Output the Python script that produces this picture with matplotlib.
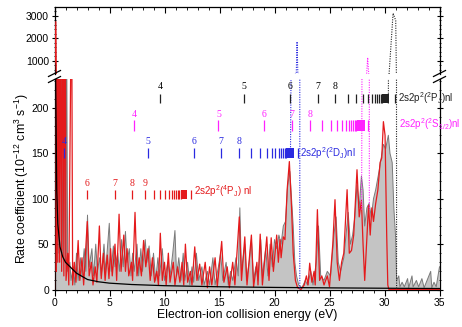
import numpy as np
import matplotlib
matplotlib.use("Agg")
import matplotlib.pyplot as plt
from matplotlib.ticker import MultipleLocator
from matplotlib.lines import Line2D

plt.rcParams['font.family'] = ['Liberation Sans', 'DejaVu Sans']
plt.rcParams['mathtext.fontset'] = 'custom'
plt.rcParams['mathtext.rm'] = 'Liberation Sans'
plt.rcParams['mathtext.it'] = 'Liberation Sans:italic'
plt.rcParams['mathtext.bf'] = 'Liberation Sans:bold'

# ---------------- data ----------------
red_x = [0.0, 0.12, 0.17, 0.25, 0.3, 0.4, 0.47, 0.58, 0.65, 0.78, 0.85, 0.97, 1.05, 1.2, 1.3, 1.55, 1.65,
         1.8, 1.95, 2.15, 2.3, 2.5, 2.65, 2.98, 3.15, 3.35, 3.5, 3.7, 3.85, 4.08, 4.25, 4.45, 4.6, 4.8,
         4.95, 5.1, 5.25, 5.5, 5.65, 5.87, 6.05, 6.3, 6.45, 6.6, 6.75, 7.0, 7.1, 7.32, 7.5, 7.7, 7.9,
         8.1, 8.3, 8.5, 8.7, 8.9, 9.1, 9.3, 9.45, 9.62, 9.8, 10.0, 10.15, 10.35, 10.5, 10.8, 10.95,
         11.2, 11.4, 11.6, 11.75, 11.9, 12.1, 12.35, 12.5, 12.75, 12.95, 13.2, 13.4, 13.7, 13.9, 14.1,
         14.3, 14.6, 14.8, 15.2, 15.4, 15.7, 15.9, 16.2, 16.4, 16.8, 17.0, 17.3, 17.5, 17.9, 18.1, 18.4,
         18.5, 18.7, 18.9, 19.3, 19.5, 19.7, 19.9, 20.2, 20.35, 20.5, 20.6, 20.8, 20.95, 21.15, 21.35,
         21.55, 21.7, 21.9, 22.1, 22.4, 22.7, 22.9, 23.05, 23.2, 23.4, 23.6, 23.7, 23.9, 24.1, 24.3,
         24.5, 24.8, 25.0, 25.3, 25.5, 25.7, 25.9, 26.1, 26.3, 26.6, 26.8, 27.0, 27.2, 27.5, 27.7,
         27.9, 28.05, 28.2, 28.35, 28.55, 28.7, 28.85, 29.0, 29.2, 29.4, 29.6, 29.75, 29.9, 30.05,
         30.2, 30.3, 30.4, 35.0]
red_y = [0, 2750, 20, 350, 30, 350, 30, 350, 20, 350, 15, 350, 10, 40, 5, 350, 5,
         30, 8, 54, 10, 35, 5, 75, 15, 30, 5, 25, 8, 70, 12, 40, 10, 38,
         12, 45, 15, 50, 10, 83, 20, 60, 20, 45, 15, 30, 10, 85, 15, 35, 15,
         54, 25, 45, 10, 35, 8, 20, 5, 62, 10, 30, 5, 40, 8, 30, 5,
         25, 8, 30, 5, 50, 8, 20, 5, 47, 10, 28, 5, 30, 2, 25,
         5, 35, 3, 53, 8, 25, 2, 30, 5, 80, 10, 58, 5, 60, 3, 30,
         5, 61, 5, 58, 10, 57, 20, 60, 30, 55, 35, 58, 55, 110, 141,
         90, 40, 10, 2, 0, 5, 15, 5, 29, 8, 20, 5, 88, 10, 15,
         5, 15, 3, 50, 99, 30, 10, 30, 40, 110, 40, 43, 60, 132, 80,
         98, 50, 10, 45, 93, 60, 90, 75, 95, 110, 140, 145, 185, 170,
         60, 5, 0, 0]

gray_x = [0.0, 0.05, 0.1, 0.3, 0.4, 0.6, 0.7, 0.9, 1.0, 1.1, 1.2, 1.4, 1.5, 1.7, 1.85, 2.0, 2.15, 2.35,
          2.5, 2.7, 2.85, 3.0, 3.15, 3.4, 3.55, 3.75, 3.9, 4.1, 4.25, 4.5, 4.65, 4.98, 5.15, 5.35, 5.5,
          5.75, 5.9, 6.1, 6.25, 6.45, 6.6, 6.8, 6.95, 7.1, 7.25, 7.5, 7.65, 7.85, 8.0, 8.25, 8.4, 8.6,
          8.8, 9.0, 9.2, 9.4, 9.55, 9.8, 10.0, 10.3, 10.5, 10.75, 10.95, 11.1, 11.3, 11.5, 11.7, 11.85,
          12.1, 12.3, 12.5, 12.65, 12.9, 13.1, 13.4, 13.6, 13.9, 14.1, 14.4, 14.6, 14.9, 15.1, 15.3,
          15.6, 15.8, 16.0, 16.2, 16.5, 16.7, 16.85, 17.0, 17.3, 17.45, 17.7, 17.9, 18.1, 18.3, 18.5,
          18.75, 18.9, 19.2, 19.4, 19.6, 19.8, 20.0, 20.2, 20.4, 20.6, 20.8, 21.0, 21.2, 21.4, 21.55,
          21.7, 21.85, 22.0, 22.2, 22.5, 22.8, 23.0, 23.3, 23.5, 23.8, 24.0, 24.2, 24.5, 24.8, 25.1,
          25.4, 25.6, 25.8, 26.0, 26.3, 26.5, 26.7, 26.9, 27.1, 27.3, 27.5, 27.7, 27.9, 28.05, 28.2,
          28.4, 28.6, 28.8, 29.0, 29.2, 29.5, 29.7, 29.9, 30.1, 30.35, 30.5, 30.7, 30.85, 31.0, 31.1,
          31.3, 31.4, 31.6, 31.8, 32.1, 32.2, 32.5, 32.6, 32.9, 33.1, 33.4, 33.6, 34.2, 34.3, 34.5,
          34.7, 35.0]
gray_y = [0, 400, 50, 350, 40, 300, 40, 300, 30, 300, 20, 30, 10, 25, 5, 40, 10, 35,
          15, 45, 20, 82, 25, 45, 15, 50, 20, 35, 15, 50, 20, 73, 20, 48, 25,
          40, 20, 55, 25, 64, 30, 45, 15, 40, 20, 50, 15, 45, 20, 55, 30, 48,
          15, 40, 10, 35, 15, 45, 10, 30, 15, 40, 65, 15, 35, 10, 40, 10,
          30, 5, 25, 8, 40, 10, 25, 5, 20, 5, 35, 5, 25, 40, 10,
          30, 5, 20, 10, 35, 15, 90, 20, 50, 10, 30, 55, 10, 25, 10,
          55, 15, 45, 15, 50, 25, 55, 45, 60, 50, 70, 75, 115, 130, 100,
          70, 30, 15, 5, 2, 10, 5, 20, 5, 30, 70, 15, 10, 20, 15,
          60, 80, 30, 20, 35, 60, 85, 50, 60, 80, 115, 90, 125, 110, 70,
          90, 95, 80, 100, 110, 130, 145, 160, 155, 170, 150, 140, 90, 60, 10,
          15, 3, 8, 3, 12, 2, 15, 3, 10, 3, 12, 2, 20, 2, 8,
          3, 25]

rr_x = [0.02, 0.05, 0.1, 0.2, 0.3, 0.5, 0.75, 1.0, 1.5, 2.0, 3.0, 4.0, 5.0, 7.0, 10.0, 15.0, 20.0, 25.0, 30.0, 35.0]
rr_y = [900, 450, 240, 110, 72, 47, 36, 30, 24, 18, 11, 8.5, 7, 5.5, 4.2, 3.0, 2.3, 1.8, 1.4, 1.1]

# dotted series-limit pile-ups
blue_dot_x = [21.45, 21.5, 21.98, 22.05, 22.12, 22.3, 22.3]
blue_dot_y = [146, 232, 450, 1860, 450, 232, 0]
mag_dot_x = [27.92, 27.95, 28.38, 28.47, 28.56, 28.62, 28.62]
mag_dot_y = [88, 232, 450, 1150, 450, 232, 88]
blk_dot_x = [30.35, 30.42, 30.78, 31.02, 31.08, 31.1]
blk_dot_y = [205, 450, 3120, 2800, 450, 0]

# Rydberg series markers
red_num = [6, 7, 8, 9]
red_num_x = [2.96, 5.46, 7.09, 8.20]
red_tick_x = [9.00, 9.59, 10.04, 10.39, 10.67, 10.89, 11.07, 11.22, 11.35, 11.46]
red_block = [11.5, 12.05]
red_limit = 12.4

blue_num = [4, 5, 6, 7, 8]
blue_num_x = [0.85, 8.5, 12.66, 15.16, 16.79]
blue_tick_x = [17.9, 18.7, 19.29, 19.74, 20.09, 20.37, 20.59, 20.77, 20.92, 21.05]
blue_block = [21.0, 21.78]
blue_limit = 22.15

mag_num = [4, 5, 6, 7, 8]
mag_num_x = [7.25, 14.9, 19.06, 21.56, 23.19]
mag_tick_x = [24.30, 25.10, 25.69, 26.14, 26.49, 26.77, 26.99, 27.17, 27.32, 27.45]
mag_block = [27.5, 28.22]
mag_limit = 28.53

blk_num = [4, 5, 6, 7, 8]
blk_num_x = [9.6, 17.25, 21.41, 23.91, 25.54]
blk_tick_x = [26.65, 27.45, 28.04, 28.49, 28.84, 29.12, 29.34, 29.52, 29.67, 29.80]
blk_block = [29.75, 30.42]
blk_limit = 30.92

series_labels = [r'2s2p$^2$($^4$P$_\mathrm{J}$) nl', r'2s2p$^2$($^2$D$_\mathrm{J}$)nl',
                 r'2s2p$^2$($^2$S$_{1/2}$)nl', r'2s2p$^2$($^2$P$_\mathrm{J}$)nl']

# ---------------- figure ----------------
W, H = 462, 327
fig = plt.figure(figsize=(W / 100, H / 100), dpi=100)
L, R = 54.5 / W, 439.5 / W
ax = fig.add_axes([L, 1 - 289.5 / H, R - L, (289.5 - 79) / H])
axt = fig.add_axes([L, 1 - 73.5 / H, R - L, (73.5 - 7) / H])

RED = '#e41a1c'
GRAYF = '#c4c4c4'
GRAYL = '#7a7a7a'
BLUE = '#2a2ae0'
MAG = '#ff22ff'

for a in (ax, axt):
    a.fill_between(gray_x, gray_y, 0, color=GRAYF, lw=0, zorder=1)
    a.plot(gray_x, gray_y, color=GRAYL, lw=0.7, zorder=2)
    a.plot(red_x, red_y, color=RED, lw=0.9, zorder=3)
    a.plot(rr_x, rr_y, color='black', lw=0.9, zorder=4)
    a.plot(blue_dot_x, blue_dot_y, color=BLUE, lw=0.8, ls=(0, (1, 1.2)), zorder=4)
    a.plot(mag_dot_x, mag_dot_y, color=MAG, lw=0.8, ls=(0, (1, 1.2)), zorder=4)
    a.plot(blk_dot_x, blk_dot_y, color='#222222', lw=0.8, ls=(0, (1, 1.2)), zorder=4)
    a.set_xlim(0, 35)
    a.xaxis.set_major_locator(MultipleLocator(5))
    a.xaxis.set_minor_locator(MultipleLocator(1))
    for s in a.spines.values():
        s.set_linewidth(0.9)

ax.set_ylim(0, 232)
axt.set_ylim(444, 3400)
ax.spines['top'].set_visible(False)
axt.spines['bottom'].set_visible(False)

ax.yaxis.set_major_locator(MultipleLocator(50))
ax.yaxis.set_minor_locator(MultipleLocator(10))
axt.yaxis.set_major_locator(MultipleLocator(1000))
axt.yaxis.set_minor_locator(MultipleLocator(200))

ax.tick_params(axis='x', which='both', bottom=True, top=False, direction='out', labelsize=7.5, pad=2)
ax.tick_params(axis='y', which='both', left=True, right=True, direction='in', labelsize=7.5, pad=2)
ax.tick_params(axis='y', which='both', left=True, direction='inout')
axt.tick_params(axis='x', which='both', bottom=False, top=True, labelbottom=False, direction='in')
axt.tick_params(axis='y', which='both', left=True, right=True, direction='in', labelsize=7.5, pad=2)
axt.tick_params(axis='y', which='both', left=True, direction='inout')
for a in (ax, axt):
    a.tick_params(which='major', length=4, width=0.8)
    a.tick_params(which='minor', length=2, width=0.6)

ax.set_xlabel('Electron-ion collision energy (eV)', fontsize=8.8, labelpad=1)
fig.text(0.048, 0.455, r'Rate coefficient (10$^{-12}$ cm$^3$ s$^{-1}$)', rotation=90,
         ha='center', va='center', fontsize=8.8)

# series markers
def draw_series(num, num_x, tick_x, block, limit, y0, y1, ylab, color, numcolor, label, lab_x, lab_y, lab_fs=7):
    ax.vlines(num_x, y0, y1, color=color, lw=0.9, zorder=5)
    ax.vlines(tick_x, y0, y1, color=color, lw=0.9, zorder=5)
    ax.fill_between(block, y0, y1, color=color, lw=0, zorder=5)
    ax.vlines([limit], y0, y1, color=color, lw=0.9, zorder=5)
    for n, xx in zip(num, num_x):
        ax.text(xx, ylab, str(n), color=numcolor, ha='center', va='center', fontsize=7,
                family=['Liberation Serif', 'DejaVu Serif'], zorder=6)
    ax.text(lab_x, lab_y, label, color=color, ha='left', va='center', fontsize=lab_fs, zorder=6, clip_on=False)

draw_series(red_num, red_num_x, red_tick_x, red_block, red_limit, 100, 110, 117, RED, RED,
            series_labels[0], 12.7, 108)
draw_series(blue_num, blue_num_x, blue_tick_x, blue_block, blue_limit, 145, 156, 163, BLUE, BLUE,
            series_labels[1], 22.35, 150)
draw_series(mag_num, mag_num_x, mag_tick_x, mag_block, mag_limit, 175, 187, 193, MAG, MAG,
            series_labels[2], 31.35, 182)
draw_series(blk_num, blk_num_x, blk_tick_x, blk_block, blk_limit, 205, 216, 224, '#222222', 'black',
            series_labels[3], 31.2, 211)

# axis break marks
def brk(xf):
    for dy in (0, 6):
        y_lo = 1 - (81 - dy) / H
        y_hi = 1 - (75 - dy) / H
        fig.add_artist(Line2D([xf - 6 / W, xf + 6 / W], [y_lo - 1.5 / H, y_hi - 1.5 / H],
                              color='black', lw=0.9, transform=fig.transFigure))

brk(L)
brk(R)

fig.savefig('out.png', dpi=100)
